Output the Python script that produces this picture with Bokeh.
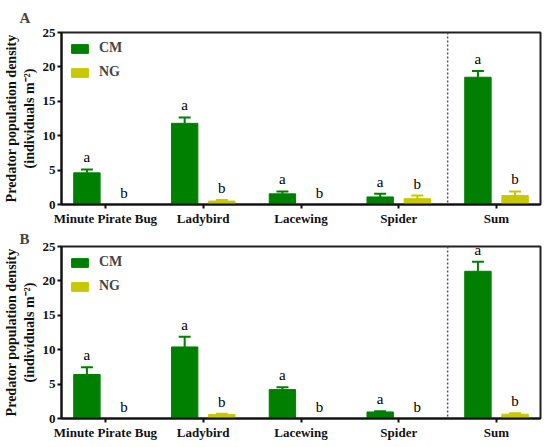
import numpy as np
from bokeh.plotting import figure
from bokeh.models import Range1d, FixedTicker, Span, Whisker, TeeHead, ColumnDataSource
from bokeh.layouts import column
from bokeh.embed import file_html
from bokeh.resources import INLINE

categories = ["Minute Pirate Bug", "Ladybird", "Lacewing", "Spider", "Sum"]
groups = ["CM", "NG"]

# Panel A
a_cm = [4.6, 11.8, 1.55, 1.1, 18.5]
a_cm_err = [0.5, 0.85, 0.35, 0.45, 0.9]
a_ng = [0.0, 0.5, 0.0, 0.85, 1.3]
a_ng_err = [0.0, 0.15, 0.0, 0.45, 0.6]
a_cm_sig = ["a", "a", "a", "a", "a"]
a_ng_sig = ["b", "b", "b", "b", "b"]

# Panel B
b_cm = [6.4, 10.4, 4.2, 0.95, 21.4]
b_cm_err = [1.05, 1.5, 0.35, 0.1, 1.4]
b_ng = [0.0, 0.58, 0.0, 0.0, 0.63]
b_ng_err = [0.0, 0.12, 0.0, 0.0, 0.12]
b_cm_sig = ["a", "a", "a", "a", "a"]
b_ng_sig = ["b", "b", "b", "b", "b"]

y_ticks = [0, 5, 10, 15, 20, 25]

GREEN = "#008000"
YELLOW = "#c8c800"
FONT = "Liberation Serif"


def make_panel(letter, cm, cm_err, ng, ng_err, cm_sig, ng_sig, standoff):
    p = figure(frame_width=479, frame_height=172, output_backend="svg", toolbar_location=None,
               x_range=Range1d(-0.45, 4.45), y_range=Range1d(0, 25),
               min_border_left=54, min_border_right=2, min_border_top=0, min_border_bottom=0)
    p.title.text = letter
    p.title.align = "left"
    p.title.offset = -42
    p.title.text_font = FONT
    p.title.text_font_size = "15px"
    p.title.text_font_style = "bold"
    p.title.text_line_height = 0.8
    p.title.standoff = standoff

    idx = np.arange(len(categories))
    off = 0.19
    w = 0.27
    for vals, errs, sig, color, name, sgn in [(cm, cm_err, cm_sig, GREEN, "CM", -1),
                                              (ng, ng_err, ng_sig, YELLOW, "NG", 1)]:
        xs = idx + sgn * off
        vals = np.array(vals, dtype=float)
        errs = np.array(errs, dtype=float)
        src = ColumnDataSource(dict(x=xs, top=vals, up=vals + errs, sig=sig))
        p.vbar(x="x", top="top", width=w, source=src, fill_color=color, line_color=color,
               legend_label=name)
        mask = errs > 0
        wsrc = ColumnDataSource(dict(x=xs[mask], lo=vals[mask], up=(vals + errs)[mask]))
        wh = Whisker(base="x", lower="lo", upper="up", source=wsrc, dimension="height",
                     line_color=color, line_width=2,
                     upper_head=TeeHead(size=12, line_color=color, line_width=2),
                     lower_head=None)
        p.add_layout(wh)
        p.text(x="x", y="up", text="sig", source=src, text_align="center",
               text_baseline="bottom", y_offset=-4, text_font_size="15px",
               text_font={"value": FONT}, text_color="#000000")

    span = Span(location=3.5, dimension="height", line_color="#555555", line_width=1.5,
                line_dash="2 2")
    p.add_layout(span)

    p.xgrid.visible = False
    p.ygrid.visible = False
    p.outline_line_color = "#222222"
    p.outline_line_width = 2

    p.xaxis.ticker = FixedTicker(ticks=list(range(len(categories))))
    p.xaxis.major_label_overrides = {i: c for i, c in enumerate(categories)}
    p.yaxis.ticker = FixedTicker(ticks=y_ticks)
    for ax in (p.xaxis, p.yaxis):
        ax.axis_line_color = "#111111"
        ax.axis_line_width = 2
        ax.major_tick_line_width = 2
        ax.major_tick_line_color = "#111111"
        ax.major_tick_out = 4
        ax.major_tick_in = 0
        ax.minor_tick_line_color = None
        ax.major_label_text_font = FONT
        ax.major_label_text_font_style = "bold"
        ax.major_label_text_font_size = "13px"
        ax.major_label_text_color = "#111111"
    p.xaxis.major_label_standoff = 2
    p.xaxis.major_label_text_line_height = 1.0
    p.xaxis.axis_label_standoff = 0
    p.yaxis.major_label_standoff = 2
    p.yaxis.axis_label = "Predator population density\n(individuals m\u207b\u00b2)"
    p.yaxis.axis_label_text_font = FONT
    p.yaxis.axis_label_text_font_style = "bold"
    p.yaxis.axis_label_text_font_size = "14px"
    p.yaxis.axis_label_standoff = 3
    p.yaxis.axis_label_text_color = "#111111"

    lg = p.legend[0]
    lg.location = "top_left"
    lg.margin = 8
    lg.padding = 4
    lg.spacing = 8
    lg.glyph_width = 21
    lg.glyph_height = 11
    lg.label_height = 11
    lg.label_standoff = 9
    lg.border_line_color = None
    lg.background_fill_alpha = 0
    lg.label_text_font = FONT
    lg.label_text_font_style = "bold"
    lg.label_text_font_size = "14px"
    return p


pa = make_panel("A", a_cm, a_cm_err, a_ng, a_ng_err, a_cm_sig, a_ng_sig, 14)
pb = make_panel("B", b_cm, b_cm_err, b_ng, b_ng_err, b_cm_sig, b_ng_sig, 0)

layout = column(pa, pb, spacing=0)
open("out.html", "w").write(file_html(layout, INLINE))
